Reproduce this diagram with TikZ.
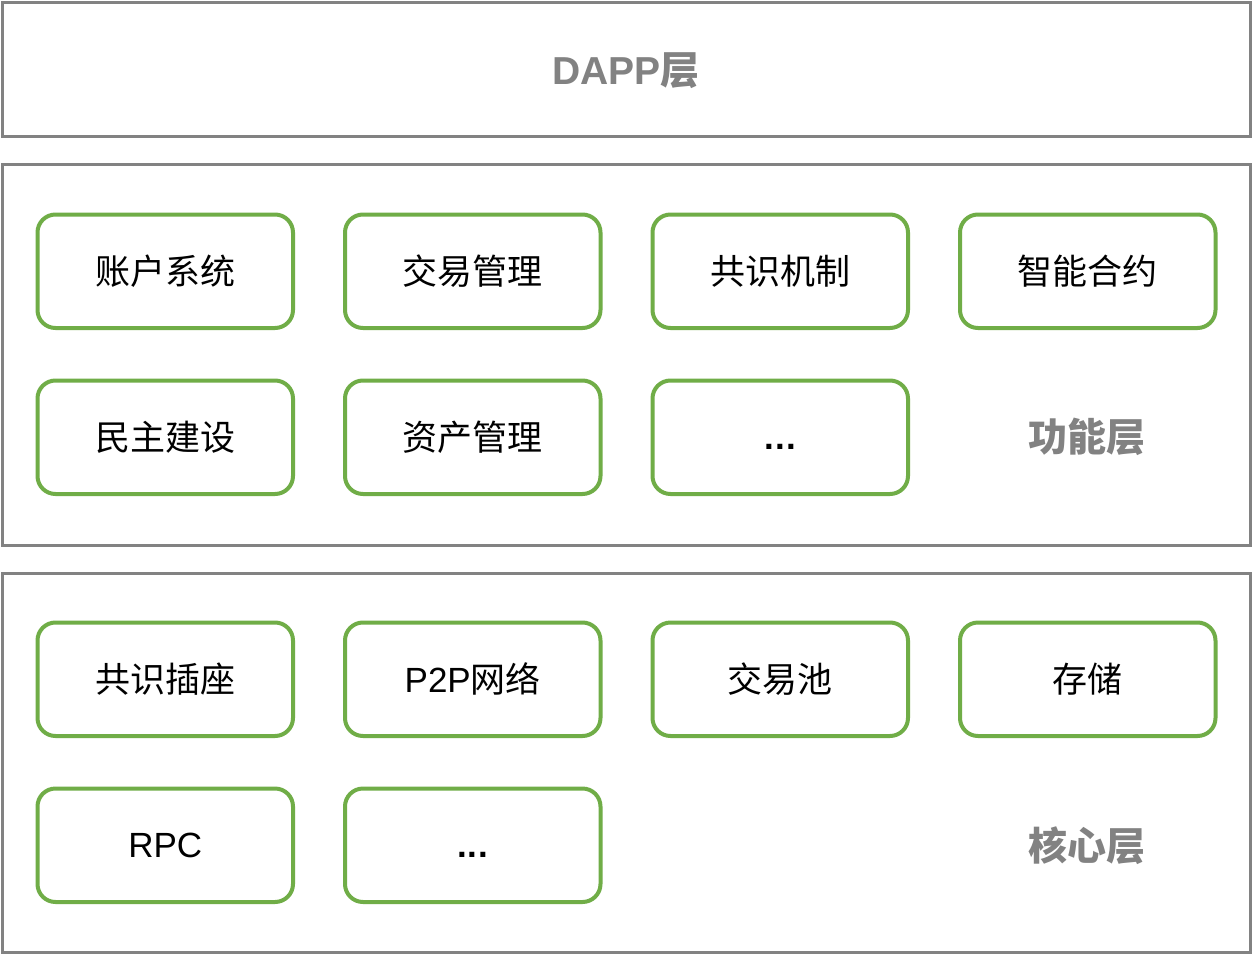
\documentclass[tikz,border=0pt]{standalone}
\usepackage{fontspec}
\setmainfont{Liberation Sans}
\newfontfamily\cjk{Noto Sans CJK SC}
\definecolor{StackGray}{RGB}{130,130,130}
\definecolor{StackGreen}{RGB}{112,173,71}
\tikzset{
  stack/layer/.style={
    draw=StackGray,
    line width=3pt,
    fill=white,
    minimum width=1248pt,
    inner sep=0pt
  },
  stack/module/.style={
    draw=StackGreen,
    line width=4pt,
    rounded corners=18pt,
    fill=white,
    align=center,
    text=black,
    minimum width=255.5pt,
    minimum height=113.5pt,
    inner sep=0pt,
    font=\fontsize{35}{40}\selectfont
  },
  stack/title/.style={text=StackGray, font=\fontsize{39}{44}\selectfont\bfseries}
}

\begin{document}
\begin{tikzpicture}[x=1pt,y=-1pt]
  \useasboundingbox (0,0) rectangle (1254,956);
  % layers
  \node[stack/layer,minimum height=134.5pt] (dapp) at (626,69.25) {};
  \node[stack/layer,minimum height=380.5pt] (func) at (626,354.75) {};
  \node[stack/layer,minimum height=379pt] (core) at (626,762.5) {};
  \node[stack/title] (dapptitle) at (626,71) {DAPP{\cjk 层}};
  % function layer
  \node[stack/module] (account) at (165.25,271.25) {\cjk 账户系统};
  \node[stack/module] (txmgmt) at (472.75,271.25) {\cjk 交易管理};
  \node[stack/module] (consensus) at (780.25,271.25) {\cjk 共识机制};
  \node[stack/module] (contract) at (1087.75,271.25) {\cjk 智能合约};
  \node[stack/module] (democracy) at (165.25,437.25) {\cjk 民主建设};
  \node[stack/module] (asset) at (472.75,437.25) {\cjk 资产管理};
  \node[stack/module] (funcmore) at (780.25,437.25) {\vphantom{P}\textbf{.\kern1pt.\kern1pt.}};
  \node[stack/title] (functitle) at (1087,437.25) {\cjk 功能层};
  % core layer
  \node[stack/module] (plugin) at (165.25,679.25) {\cjk 共识插座};
  \node[stack/module] (ptp) at (472.75,679.25) {P2P{\cjk 网络}};
  \node[stack/module] (txpool) at (780.25,679.25) {\cjk 交易池};
  \node[stack/module] (storage) at (1087.75,679.25) {\cjk 存储};
  \node[stack/module] (rpc) at (165.25,845.25) {RPC};
  \node[stack/module] (coremore) at (472.75,845.25) {\vphantom{P}\textbf{.\kern1pt.\kern1pt.}};
  \node[stack/title] (coretitle) at (1087,845.25) {\cjk 核心层};
\end{tikzpicture}
\end{document}
